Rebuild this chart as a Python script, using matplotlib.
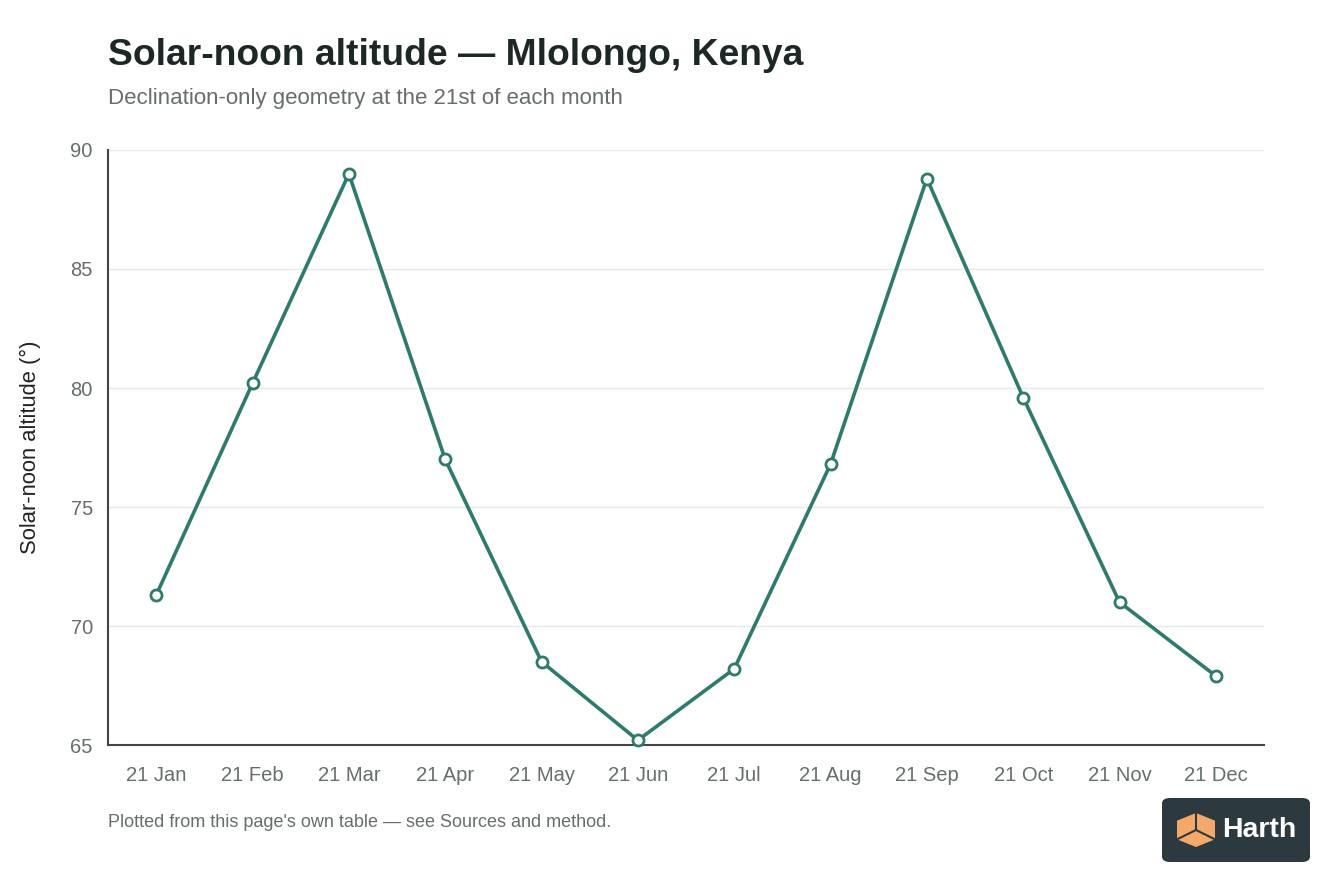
import numpy as np
import matplotlib.pyplot as plt
from matplotlib.patches import FancyBboxPatch, Polygon

plt.rcParams['font.family'] = ['Liberation Sans', 'DejaVu Sans']

# Data
months = ["21 Jan", "21 Feb", "21 Mar", "21 Apr", "21 May", "21 Jun",
          "21 Jul", "21 Aug", "21 Sep", "21 Oct", "21 Nov", "21 Dec"]
altitude = [71.3, 80.2, 89.0, 77.0, 68.5, 65.2, 68.2, 76.8, 88.8, 79.6, 71.0, 67.9]
y_ticks = [65, 70, 75, 80, 85, 90]

line_color = "#2e7b6d"
text_gray = "#666e6c"

fig = plt.figure(figsize=(13.44, 8.96), dpi=100)
ax = fig.add_axes([0.0804, 0.1685, 0.8601, 0.6641])

x = np.arange(len(months))
ax.plot(x, altitude, color=line_color, linewidth=2.6, marker='o', markersize=8,
        markerfacecolor='white', markeredgecolor=line_color, markeredgewidth=2,
        zorder=3, clip_on=False)

ax.set_xlim(-0.5, len(months) - 0.5)
ax.set_ylim(65, 90)
ax.set_xticks(x)
ax.set_xticklabels(months)
ax.set_yticks(y_ticks)
ax.tick_params(axis='both', length=0, labelsize=14.5, labelcolor=text_gray)
ax.tick_params(axis='x', pad=15)
ax.tick_params(axis='y', pad=11)
ax.grid(axis='y', color='#e8eaea', linewidth=1)
ax.set_axisbelow(True)
for s in ['top', 'right']:
    ax.spines[s].set_visible(False)
for s in ['left', 'bottom']:
    ax.spines[s].set_color('#444444')
    ax.spines[s].set_linewidth(1.5)
ax.set_ylabel("Solar-noon altitude (°)", fontsize=15.8, color='#222222', labelpad=21)

fig.text(0.0804, 0.938, "Solar-noon altitude — Mlolongo, Kenya", fontsize=26.8,
         fontweight='bold', color='#1d2826', va='center')
fig.text(0.0804, 0.890, "Declination-only geometry at the 21st of each month",
         fontsize=16, color=text_gray, va='center')
fig.text(0.0804, 0.0815, "Plotted from this page's own table — see Sources and method.",
         fontsize=13, color=text_gray, va='center')

# logo badge
box = FancyBboxPatch((1162 / 1344, 1 - 862 / 896), 148 / 1344, 64 / 896,
                     boxstyle="round,pad=0,rounding_size=0.006",
                     transform=fig.transFigure, facecolor='#2c3a40', edgecolor='none')
fig.patches.append(box)
cx, cy = 1196 / 1344, 1 - 830 / 896
w, h = 19 / 1344, 17 / 896
cube = Polygon([(cx - w, cy + h * 0.55), (cx, cy + h), (cx + w, cy + h * 0.55),
                (cx + w, cy - h * 0.55), (cx, cy - h), (cx - w, cy - h * 0.55)],
               closed=True, transform=fig.transFigure, facecolor='#f4a96b', edgecolor='none')
fig.patches.append(cube)
fig.lines.append(plt.Line2D([cx, cx], [cy, cy + h], transform=fig.transFigure,
                            color='#2c3a40', linewidth=1.5))
fig.lines.append(plt.Line2D([cx - w, cx, cx + w], [cy - h * 0.55, cy, cy - h * 0.55],
                            transform=fig.transFigure, color='#2c3a40', linewidth=1.5))
fig.text(1222 / 1344, cy, "Harth", fontsize=20.5, fontweight='bold', color='white',
         va='center', ha='left')

fig.savefig("out.png", dpi=100, facecolor='white')
